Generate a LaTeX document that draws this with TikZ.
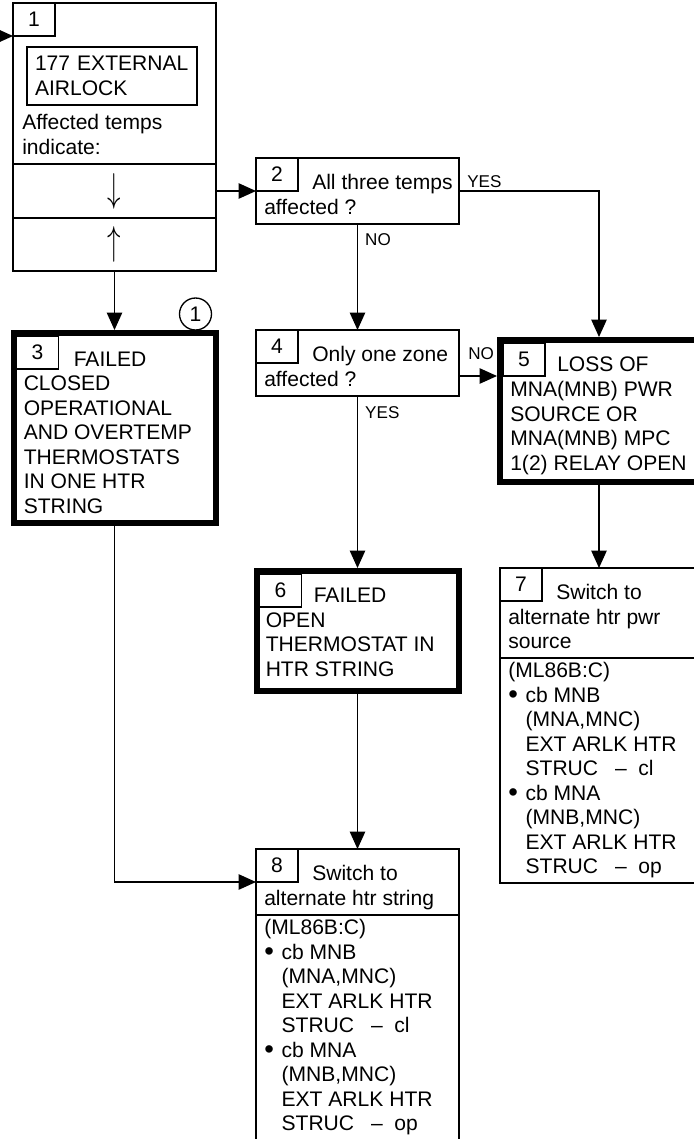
\documentclass[tikz,border=0pt]{standalone}
\usepackage{fontspec}
\usepackage{graphicx}
\setmainfont{Liberation Sans}
\usetikzlibrary{arrows.meta,positioning}
\newcommand{\itemdot}{\makebox[13pt][l]{\raisebox{-1pt}{\scalebox{1.3}{\textbullet}}}}

\begin{document}
\begin{tikzpicture}[
    x=0.75pt, y=-0.75pt,
    font=\fontsize{15.8}{18.4}\selectfont,
    stepbox/.style={draw, line width=1pt, inner sep=0pt, outer sep=0pt, minimum width=152.25pt},
    heavybox/.style={stepbox, line width=4.5pt, outer sep=2.25pt, minimum width=151.5pt},
    numtab/.style={draw, line width=1pt, inner sep=0pt, outer sep=0pt, anchor=north west, minimum width=31.5pt, minimum height=24.75pt},
    txt/.style={align=left, inner sep=0pt, execute at begin node=\rule{0pt}{12pt}},
    lbl/.style={inner sep=0pt, font=\fontsize{12.8}{15}\selectfont},
    arr/.style={-{Triangle[length=13pt, width=11.5pt]}, line width=1pt}
  ]
    \useasboundingbox (0,0) rectangle (693,1139);

    \node[stepbox, minimum height=120.75pt, anchor=north west] (n1) at (13,3) {};
    \node[stepbox, minimum height=40.5pt, below=0pt of n1] (n1dn) {\scalebox{1.4}[2.1]{$\downarrow$}};
    \node[stepbox, minimum height=39.75pt, below=0pt of n1dn] (n1up) {\scalebox{1.4}[2.1]{$\uparrow$}};
    \node[numtab] (n1tab) at (n1.north west) {1};
    \node[stepbox, minimum width=127.5pt, minimum height=43.5pt, text width=115.5pt, align=left,
          below right=33pt and 10.5pt of n1.north west] (n1air) {177 EXTERNAL\\AIRLOCK};
    \node[txt, below right=83.25pt and 6.75pt of n1.north west] (n1txt) {Affected temps\\indicate:};

    \node[stepbox, minimum height=49.5pt, right=30pt of n1dn] (n2) {};
    \node[numtab] (n2tab) at (n2.north west) {2};
    \node[txt, below right=12pt and 6pt of n2.north west] (n2txt) {\hspace*{36pt}All three temps\\affected ?};

    \node[stepbox, minimum height=49.5pt, below=79.5pt of n2] (n4) {};
    \node[numtab] (n4tab) at (n4.north west) {4};
    \node[txt, below right=12pt and 6pt of n4.north west] (n4txt) {\hspace*{36pt}Only one zone\\affected ?};

    \node[heavybox, minimum height=142.5pt, below=44.25pt of n1up] (n3) {};
    \node[numtab] (n3tab) at ([shift={(4.5pt,-4.5pt)}]n3.north west) {3};
    \node[txt, below right=16pt and 9.75pt of n3.north west] (n3txt)
      {\hspace*{37.5pt}FAILED\\CLOSED\\OPERATIONAL\\AND OVERTEMP\\THERMOSTATS\\IN ONE HTR\\STRING};
    \node[draw, circle, line width=1pt, minimum size=24pt, inner sep=0pt] (c1) at ([shift={(-23,-16)}]n3.north east) {1};

    \node[heavybox, minimum width=148.5pt, minimum height=106.5pt, anchor=north west] (n5) at (497,337) {};
    \node[numtab] (n5tab) at ([shift={(4.5pt,-4.5pt)}]n5.north west) {5};
    \node[txt, below right=15pt and 9.75pt of n5.north west] (n5txt)
      {\hspace*{35.25pt}LOSS OF\\MNA(MNB) PWR\\SOURCE OR\\MNA(MNB) MPC\\1(2) RELAY OPEN};

    \node[heavybox, minimum height=90pt, below=129pt of n4] (n6) {};
    \node[numtab] (n6tab) at ([shift={(4.5pt,-4.5pt)}]n6.north west) {6};
    \node[txt, below right=15pt and 9pt of n6.north west] (n6txt)
      {\hspace*{36pt}FAILED\\OPEN\\THERMOSTAT IN\\HTR STRING};

    \node[stepbox, minimum width=148.5pt, minimum height=67.5pt, below=62.25pt of n5] (n7) {};
    \node[numtab] (n7tab) at (n7.north west) {7};
    \node[txt, below right=12pt and 6pt of n7.north west] (n7txt)
      {\hspace*{36pt}Switch to\\alternate htr pwr\\source};
    \node[stepbox, minimum width=148.5pt, minimum height=168.75pt, below=0pt of n7] (n7l) {};
    \node[txt, below right=3pt and 6pt of n7l.north west] (n7ltxt)
      {(ML86B:C)\\\itemdot cb MNB\\\hspace*{13pt}(MNA,MNC)\\\hspace*{13pt}EXT ARLK HTR\\\hspace*{13pt}STRUC\hspace{0.8em}–\hspace{0.55em}cl\\
       \itemdot cb MNA\\\hspace*{13pt}(MNB,MNC)\\\hspace*{13pt}EXT ARLK HTR\\\hspace*{13pt}STRUC\hspace{0.8em}–\hspace{0.55em}op};

    \node[stepbox, minimum height=49.5pt, below=116.25pt of n6] (n8) {};
    \node[numtab] (n8tab) at (n8.north west) {8};
    \node[txt, below right=12pt and 6pt of n8.north west] (n8txt)
      {\hspace*{36pt}Switch to\\alternate htr string};
    \node[stepbox, minimum height=172.5pt, below=0pt of n8] (n8l) {};
    \node[txt, below right=3pt and 6pt of n8l.north west] (n8ltxt)
      {(ML86B:C)\\\itemdot cb MNB\\\hspace*{13pt}(MNA,MNC)\\\hspace*{13pt}EXT ARLK HTR\\\hspace*{13pt}STRUC\hspace{0.8em}–\hspace{0.55em}cl\\
       \itemdot cb MNA\\\hspace*{13pt}(MNB,MNC)\\\hspace*{13pt}EXT ARLK HTR\\\hspace*{13pt}STRUC\hspace{0.8em}–\hspace{0.55em}op};

    \node[lbl, above right=3pt and 6pt of n2.east, anchor=base west] (yes2) {YES};
    \node[lbl, below right=15.75pt and 5.6pt of n2.south, anchor=base west] (no2) {NO};
    \node[lbl, above right=3pt and 6.75pt of n4.east, anchor=base west] (no4) {NO};
    \node[lbl, below right=16.5pt and 5.6pt of n4.south, anchor=base west] (yes4) {YES};

    \coordinate (in1) at (-10,36);
    \draw[arr] (in1) -- (n1.west |- n1tab.south);
    \draw[arr] (n1dn.east) -- (n2.west);
    \draw[arr] (n1up.south) -- (n3.north);
    \draw[arr] (n2.south) -- (n4.north);
    \draw[arr] (n2.east) -| (n5.north);
    \draw[arr] (n4.east |- n5tab.south) -- (n5.west |- n5tab.south);
    \draw[arr] (n4.south) -- (n6.north);
    \draw[arr] (n5.south) -- (n7.north);
    \draw[arr] (n6.south) -- (n8.north);
    \draw[arr] (n3.south) |- (n8.west |- n8tab.south);
  \end{tikzpicture}
\end{document}
